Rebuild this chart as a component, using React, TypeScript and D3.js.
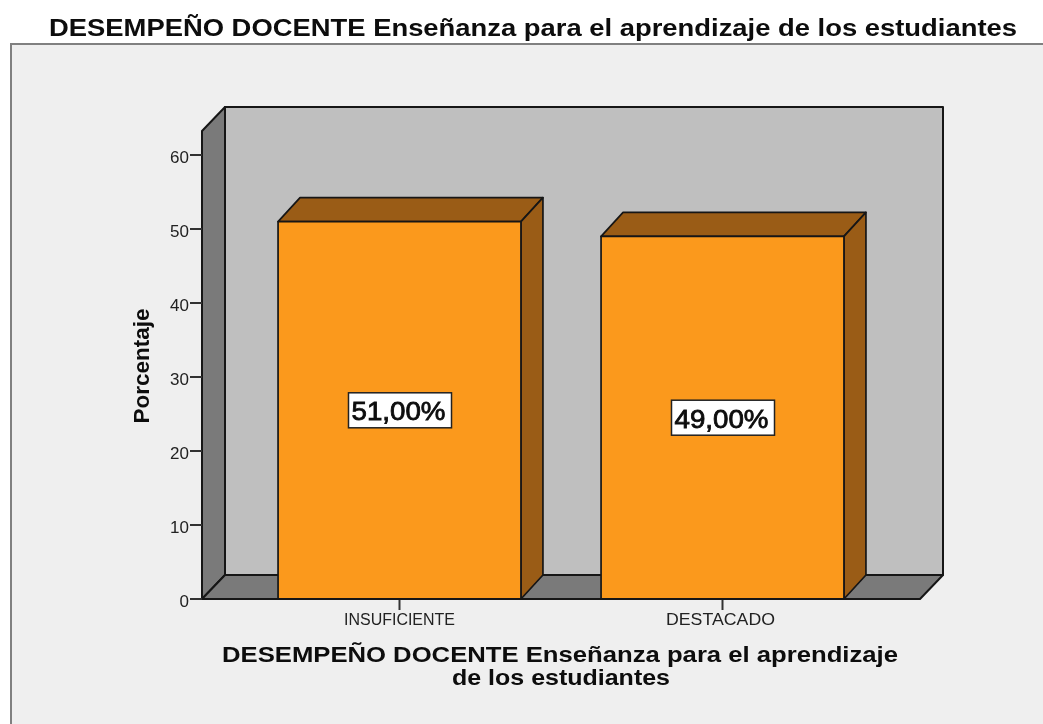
import React from "react";
import * as d3 from "d3";

const categories = ["INSUFICIENTE", "DESTACADO"];
const percentages = [51, 49];
const valueLabels = ["51,00%", "49,00%"];
const yTicks = [0, 10, 20, 30, 40, 50, 60];
const chartTitle = "DESEMPEÑO DOCENTE Enseñanza para el aprendizaje de los estudiantes";
const xTitleLines = ["DESEMPEÑO DOCENTE Enseñanza para el aprendizaje", "de los estudiantes"];
const yTitle = "Porcentaje";

const W = 1043;
const H = 724;
const FONT = "'Liberation Sans', Arial, sans-serif";
const LINE = "#161616";
const ORANGE = "#fb991c";
const BROWN = "#9a5b12";
const WALL = "#7a7a7a";
const BACK = "#bfbfbf";

const y = d3.scaleLinear().domain([0, 60]).range([599, 155]);
const x = d3.scaleBand<string>().domain(categories).range([238, 884]).paddingInner(0.248).paddingOuter(0.124);
const poly = (pts: [number, number][]) => d3.line()(pts) + "Z";

const depth = 23;
const rise = 24;
const left = 202;
const right = 920;
const floorY = y(0);
const wallTop = 131;

export default function App() {
  const bw = x.bandwidth();
  return (
    <svg width={W} height={H} viewBox={`0 0 ${W} ${H}`} style={{ position: "absolute", left: 0, top: 0, background: "#fff" }} fontFamily={FONT}>
      <defs>
        <filter id="soft" x="0" y="0" width={W} height={H} filterUnits="userSpaceOnUse" primitiveUnits="userSpaceOnUse">
          <feGaussianBlur stdDeviation="0.35" />
        </filter>
      </defs>
      <g filter="url(#soft)">
        <rect x={0} y={0} width={W} height={H} fill="#fff" />
        <rect x={11} y={44} width={W + 20} height={H} fill="#efefef" stroke="#808080" strokeWidth={2} />
        <text x={533} y={35.5} fontSize={23} fontWeight="bold" fill="#0a0a0a" textAnchor="middle" textLength={968} lengthAdjust="spacingAndGlyphs">{chartTitle}</text>

        {/* back wall, side wall, floor */}
        <g stroke={LINE} strokeWidth={2} strokeLinejoin="round">
          <path d={poly([[left + depth, wallTop - rise], [right + depth, wallTop - rise], [right + depth, floorY - rise], [left + depth, floorY - rise]])} fill={BACK} />
          <path d={poly([[left, wallTop], [left + depth, wallTop - rise], [left + depth, floorY - rise], [left, floorY]])} fill={WALL} />
          <path d={poly([[left, floorY], [left + depth, floorY - rise], [right + depth, floorY - rise], [right, floorY]])} fill={WALL} />
        </g>

        {/* y axis */}
        {yTicks.map((t) => (
          <g key={t}>
            <line x1={190} x2={left} y1={y(t)} y2={y(t)} stroke="#333" strokeWidth={2} />
            <text x={189} y={y(t) + 8} fontSize={17} fill="#222" textAnchor="end">{t}</text>
          </g>
        ))}
        <text transform="translate(149,366) rotate(-90)" fontSize={22} fontWeight="bold" fill="#0a0a0a" textAnchor="middle" textLength={115} lengthAdjust="spacingAndGlyphs">{yTitle}</text>

        {/* bars */}
        {categories.map((c, i) => {
          const x0 = x(c)!;
          const x1 = x0 + bw;
          const top = y(percentages[i]);
          const d = 22;
          return (
            <g key={c}>
              <g stroke={LINE} strokeWidth={1.7} strokeLinejoin="round">
                <path d={poly([[x0, top], [x0 + d, top - rise], [x1 + d, top - rise], [x1, top]])} fill={BROWN} />
                <path d={poly([[x1, top], [x1 + d, top - rise], [x1 + d, floorY - rise], [x1, floorY]])} fill={BROWN} />
                <rect x={x0} y={top} width={bw} height={floorY - top} fill={ORANGE} />
              </g>
              <line x1={x0 + bw / 2} x2={x0 + bw / 2} y1={floorY} y2={610} stroke="#333" strokeWidth={2} />
              <text x={x0 + bw / 2 - (i === 1 ? 2 : 0)} y={625} fontSize={16} fill="#222" textAnchor="middle" textLength={i === 0 ? 111 : 109} lengthAdjust="spacingAndGlyphs">{c}</text>
              <rect x={x0 + bw / 2 - 51} y={(top + floorY) / 2 - 17.5} width={103} height={35} fill="#fff" stroke="#222" strokeWidth={1.5} />
              <text x={x0 + bw / 2 - 1} y={(top + floorY) / 2 + 10} fontSize={26} fill="#0a0a0a" textAnchor="middle" textLength={94} lengthAdjust="spacingAndGlyphs" stroke="#0a0a0a" strokeWidth={0.8}>{valueLabels[i]}</text>
            </g>
          );
        })}

        <line x1={left} x2={right} y1={floorY} y2={floorY} stroke={LINE} strokeWidth={2} />

        <text x={560} y={662} fontSize={22} fontWeight="bold" fill="#0a0a0a" textAnchor="middle" textLength={676} lengthAdjust="spacingAndGlyphs">{xTitleLines[0]}</text>
        <text x={561} y={684.5} fontSize={22} fontWeight="bold" fill="#0a0a0a" textAnchor="middle" textLength={218} lengthAdjust="spacingAndGlyphs">{xTitleLines[1]}</text>
      </g>
    </svg>
  );
}
